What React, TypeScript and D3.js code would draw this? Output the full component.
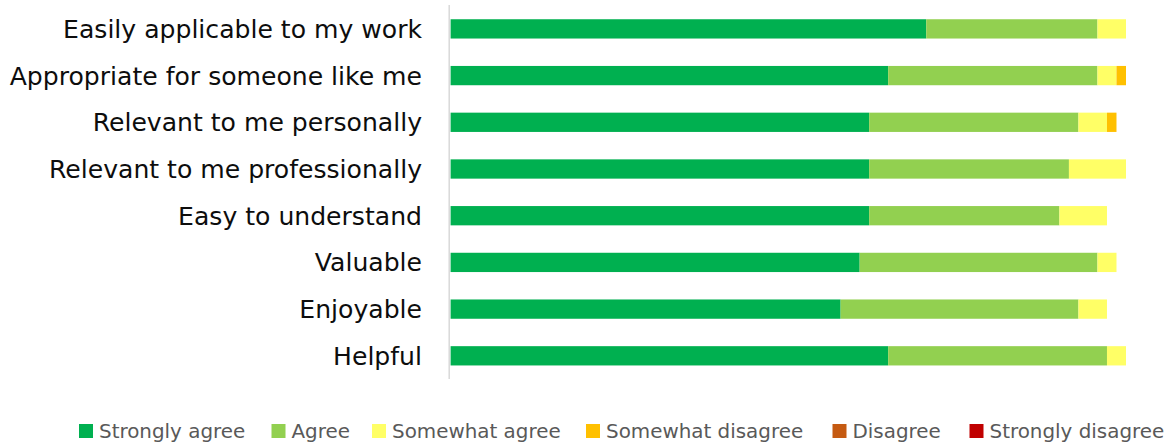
import React from "react";
import * as d3 from "d3";

const categories = [
  "Easily applicable to my work",
  "Appropriate for someone like me",
  "Relevant to me personally",
  "Relevant to me professionally",
  "Easy to understand",
  "Valuable",
  "Enjoyable",
  "Helpful",
];

const seriesNames = [
  "Strongly agree",
  "Agree",
  "Somewhat agree",
  "Somewhat disagree",
  "Disagree",
  "Strongly disagree",
];

const stronglyAgree = [50, 46, 44, 44, 44, 43, 41, 46];
const agree = [18, 22, 22, 21, 20, 25, 25, 23];
const somewhatAgree = [3, 2, 3, 6, 5, 2, 3, 2];
const somewhatDisagree = [0, 1, 1, 0, 0, 0, 0, 0];
const disagree = [0, 0, 0, 0, 0, 0, 0, 0];
const stronglyDisagree = [0, 0, 0, 0, 0, 0, 0, 0];

const colors = ["#00B050", "#92D050", "#FFFF66", "#FFC000", "#C55A11", "#C00000"];

const W = 1170;
const H = 446;

export default function App() {
  const seriesValues = [stronglyAgree, agree, somewhatAgree, somewhatDisagree, disagree, stronglyDisagree];
  const rows = categories.map((c, i) => {
    const r: any = { cat: c };
    seriesNames.forEach((s, j) => (r[s] = seriesValues[j][i]));
    return r;
  });
  const stack = d3.stack<any>().keys(seriesNames)(rows);

  const x = d3.scaleLinear().domain([0, 71]).range([450.6, 1126]);
  const y = d3
    .scaleBand<string>()
    .domain(categories)
    .range([5.7, 379])
    .paddingInner(0.587)
    .paddingOuter(0.29);

  const legendX = [79, 271.5, 372, 586, 832.5, 969.5];
  const font = "'DejaVu Sans', sans-serif";

  return (
    <svg width={W} height={H} style={{ position: "absolute", left: 0, top: 0, background: "#fff" }}>
      {stack.map((layer, j) =>
        layer.map((d, i) =>
          d[1] - d[0] > 0 ? (
            <rect
              key={`${j}-${i}`}
              x={x(d[0])}
              y={y(categories[i])}
              width={x(d[1]) - x(d[0])}
              height={y.bandwidth()}
              fill={colors[j]}
            />
          ) : null
        )
      )}
      <line x1={449.2} x2={449.2} y1={5} y2={379} stroke="#d9d9d9" strokeWidth={1.5} />
      {categories.map((c) => (
        <text
          key={c}
          x={422}
          y={(y(c) ?? 0) + y.bandwidth() / 2}
          dy="0.36em"
          textAnchor="end"
          fontFamily={font}
          fontSize={25.1}
          fill="#0d0d0d"
        >
          {c}
        </text>
      ))}
      {seriesNames.map((s, j) => (
        <g key={s} transform={`translate(${legendX[j]},431)`}>
          <rect x={0} y={-7} width={14} height={14} fill={colors[j]} />
          <text x={20} y={0} dy="0.36em" fontFamily={font} fontSize={19.9} fill="#595959">
            {s}
          </text>
        </g>
      ))}
    </svg>
  );
}
